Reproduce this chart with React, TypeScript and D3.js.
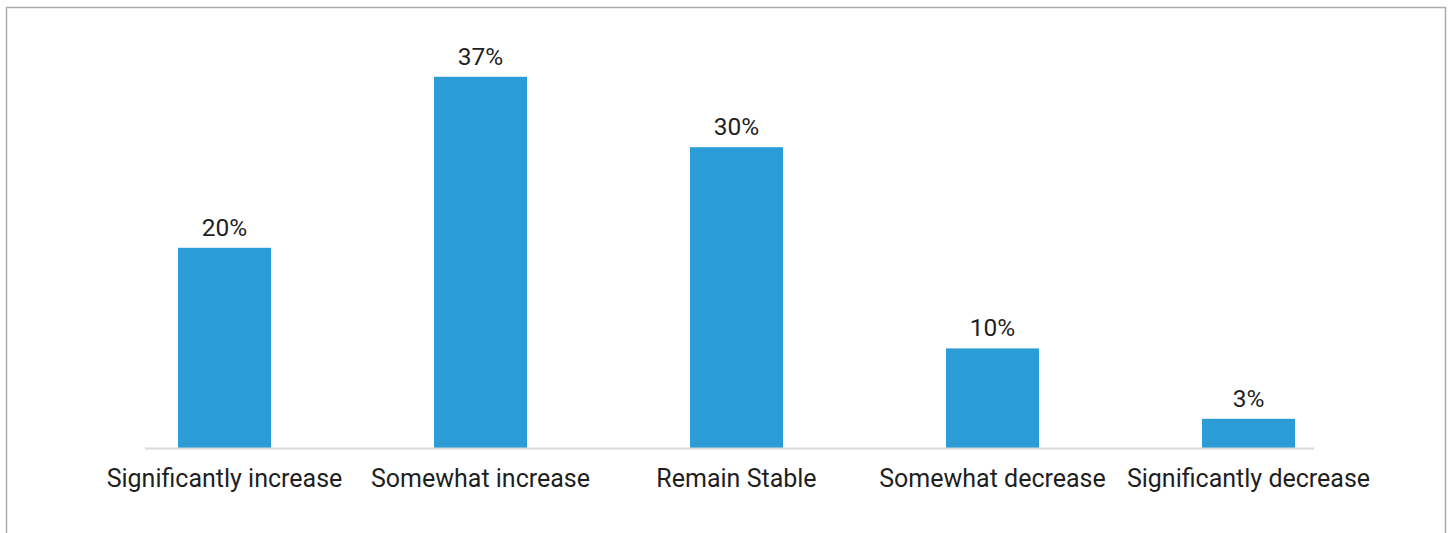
import React from "react";
import * as d3 from "d3";

// Expected change responses, share of respondents (%)
const categories: string[] = [
  "Significantly increase",
  "Somewhat increase",
  "Remain Stable",
  "Somewhat decrease",
  "Significantly decrease",
];
const shares: number[] = [20, 37, 30, 10, 3];
const valueLabels: string[] = ["20%", "37%", "30%", "10%", "3%"];
const yDomainMax = 40;

const W = 1452;
const H = 533;
const FONT = "Roboto, 'Noto Sans', Arial, sans-serif";

export default function App() {
  const plotTop = 46.6;
  const plotBottom = 449;
  const bandLeft = 96.5;
  const bandRight = 1376.5;
  const inner = 1 - 93 / 256;

  const x = d3
    .scaleBand<string>()
    .domain(categories)
    .range([bandLeft, bandRight])
    .paddingInner(inner)
    .paddingOuter(inner / 2);

  const y = d3.scaleLinear().domain([0, yDomainMax]).range([plotBottom, plotTop]);

  const rows = categories.map((c, i) => ({ c, v: shares[i], label: valueLabels[i] }));

  return (
    <svg
      width={W}
      height={H}
      style={{ position: "absolute", left: 0, top: 0, background: "#fff" }}
      fontFamily={FONT}
    >
      {/* chart frame, open at the bottom edge */}
      <rect x={6.5} y={7.5} width={1439} height={H + 20} fill="#fff" stroke="#ababab" strokeWidth={1.5} />

      {rows.map((d) => (
        <rect
          key={d.c}
          x={x(d.c)}
          y={y(d.v)}
          width={x.bandwidth()}
          height={y(0) - y(d.v)}
          fill="#2b9cd6"
        />
      ))}

      {/* category axis baseline */}
      <line x1={145} x2={1314} y1={y(0) - 0.5} y2={y(0) - 0.5} stroke="#d9d9d9" strokeWidth={2} />

      {rows.map((d) => (
        <text
          key={"v" + d.c}
          x={(x(d.c) ?? 0) + x.bandwidth() / 2}
          y={y(d.v) - 12}
          textAnchor="middle"
          fontSize={24.5}
          fill="#1f1f1f"
        >
          {d.label}
        </text>
      ))}

      {rows.map((d) => (
        <text
          key={"c" + d.c}
          x={(x(d.c) ?? 0) + x.bandwidth() / 2}
          y={487}
          textAnchor="middle"
          fontSize={25}
          fill="#1f1f1f"
        >
          {d.c}
        </text>
      ))}
    </svg>
  );
}
